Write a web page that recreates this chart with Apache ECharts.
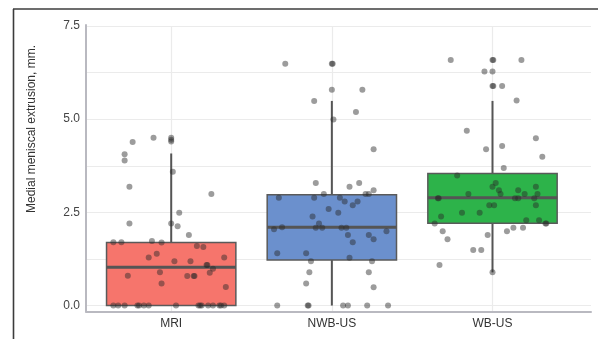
<!DOCTYPE html>
<html>
<head>
<meta charset="utf-8">
<script src="https://cdn.jsdelivr.net/npm/echarts@6/dist/echarts.min.js"></script>
<style>html,body{margin:0;padding:0;background:#fff;}#c{width:598px;height:339px;}</style>
</head>
<body>
<div id="c"></div>
<script>
// ---- data ----
var categories = ['MRI', 'NWB-US', 'WB-US'];
var boxColors = ['#F6756C', '#6B90CD', '#2DB34A'];
// [min(whisker), Q1, median, Q3, max(whisker)]
var boxMRI = [0, 0, 1.03, 1.69, 4.08];
var boxNWB = [0, 1.22, 2.10, 2.97, 5.49];
var boxWB  = [0.89, 2.21, 2.89, 3.54, 5.49];
var yTickLabels = ['0.0', '2.5', '5.0', '7.5'];

// jittered points: horizontal offset (category units) and value
var mriOffsets = [-0.11,0.00,0.00,0.00,-0.24,-0.29,-0.29,0.01,-0.26,0.25,0.05,-0.26,0.00,0.04,0.11,-0.36,-0.31,-0.12,-0.06,0.16,0.20,-0.09,-0.14,0.33,0.02,0.12,0.22,0.225,0.26,0.24,-0.07,-0.27,0.10,0.14,0.145,-0.06,0.34,
  -0.36,-0.33,-0.29,-0.21,-0.20,-0.17,-0.14,0.03,0.17,0.18,0.19,0.23,0.26,0.30,0.31,0.33];
var mriValues  = [4.50,4.50,4.45,4.40,4.39,4.06,3.89,3.59,3.19,2.99,2.49,2.20,2.20,2.13,1.89,1.70,1.70,1.73,1.69,1.60,1.57,1.39,1.29,1.29,1.19,1.19,1.09,1.09,0.99,0.88,0.89,0.80,0.79,0.79,0.79,0.59,0.50,
  0,0,0,0,0,0,0,0,0,0,0,0,0,0,0,0];
var nwbOffsets = [-0.29,0.00,0.005,0.00,0.19,-0.11,0.15,0.01,0.26,-0.10,0.17,0.11,0.26,0.21,0.23,-0.05,-0.33,-0.11,0.05,0.08,0.16,0.13,-0.02,0.04,-0.12,-0.08,-0.36,-0.31,-0.10,-0.06,0.06,0.09,0.10,0.23,0.26,0.34,0.13,-0.34,-0.16,0.11,-0.13,0.25,-0.14,0.23,-0.16,0.26,
  -0.34,-0.15,-0.145,0.07,0.10,0.22,0.35];
var nwbValues  = [6.49,6.49,6.49,5.79,5.79,5.49,5.19,4.99,4.19,3.29,3.29,3.19,3.09,2.99,2.99,2.99,2.89,2.89,2.89,2.79,2.79,2.69,2.59,2.49,2.39,2.20,2.05,2.10,2.09,2.09,2.09,2.09,1.89,1.89,1.78,1.99,1.70,1.40,1.40,1.28,1.19,1.19,0.89,0.89,0.59,0.49,
  0,0,0,0,0,0,0];
var wbOffsets = [-0.26,0.00,0.005,0.18,-0.05,0.00,0.00,0.005,0.06,0.15,-0.16,0.27,0.06,-0.04,0.31,0.07,-0.22,0.02,0.00,0.27,0.04,0.16,-0.15,0.05,0.20,0.28,-0.34,-0.335,0.14,0.16,0.26,-0.02,0.01,0.27,-0.19,-0.08,-0.32,0.21,0.29,-0.36,0.33,0.335,-0.31,0.09,0.13,0.19,-0.03,-0.28,-0.12,-0.07,-0.33,0.00];
var wbValues  = [6.59,6.59,6.59,6.59,6.28,6.28,5.89,5.89,5.89,5.50,4.69,4.49,4.28,4.19,3.99,3.69,3.49,3.29,3.19,3.19,3.09,3.09,2.99,2.99,2.99,2.99,2.88,2.88,2.88,2.88,2.88,2.69,2.69,2.69,2.49,2.49,2.39,2.29,2.29,2.20,2.20,2.20,1.99,1.99,2.09,2.09,1.89,1.78,1.49,1.49,1.09,0.89];

// ---- build ----
var boxes = [boxMRI, boxNWB, boxWB];
function pts(idx, offs, vals) {
  return vals.map(function (v, i) { return [idx + offs[i], v]; });
}
var allPoints = pts(0, mriOffsets, mriValues).concat(pts(1, nwbOffsets, nwbValues), pts(2, wbOffsets, wbValues));
var boxData = boxes.map(function (b, i) { return [i].concat(b); });

var chart = echarts.init(document.getElementById('c'), null, {renderer: 'canvas'});
var textColor = '#333';
var font = 'Liberation Sans, Arial, sans-serif';

var option = {
  animation: false,
  backgroundColor: '#fff',
  grid: [
    {left: 86, right: 7, top: 25, bottom: 27.5},      // frame (axis lines)
    {left: 86, right: 7, top: 26, bottom: 33.5},      // horizontal grid + y labels
    {left: 171.2, right: 105.5, top: 26, bottom: 27.5} // data
  ],
  xAxis: [
    {gridIndex: 0, type: 'value', min: 0, max: 1, axisLine: {show: true, lineStyle: {color: '#b9b9c0', width: 2}},
      axisTick: {show: false}, axisLabel: {show: false}, splitLine: {show: false}},
    {gridIndex: 1, type: 'value', min: 0, max: 1, show: false},
    {gridIndex: 2, type: 'value', min: 0, max: 2, interval: 1,
      axisLine: {show: false}, axisTick: {show: false},
      axisLabel: {margin: 6, color: textColor, fontSize: 12, fontFamily: font,
        formatter: function (v) { return categories[Math.round(v)] || ''; }},
      splitLine: {show: true, lineStyle: {color: '#ebebeb', width: 1.2}}}
  ],
  yAxis: [
    {gridIndex: 0, type: 'value', min: 0, max: 1, axisLine: {show: true, lineStyle: {color: '#b9b9c0', width: 2}},
      axisTick: {show: false}, axisLabel: {show: false}, splitLine: {show: false}},
    {gridIndex: 1, type: 'value', min: 0, max: 7.5, interval: 1.25,
      axisLine: {show: false}, axisTick: {show: false},
      axisLabel: {margin: 6, color: '#444', fontSize: 12, fontFamily: font,
        formatter: function (v) {
          var k = v / 2.5;
          if (Math.abs(k - Math.round(k)) < 1e-6) { return yTickLabels[Math.round(k)]; }
          return '';
        }},
      splitLine: {show: true, lineStyle: {color: '#ebebeb', width: 1.2}}},
    {gridIndex: 2, type: 'value', min: -0.16, max: 7.5, show: false}
  ],
  series: [
    {
      type: 'custom',
      xAxisIndex: 2, yAxisIndex: 2,
      data: boxData,
      clip: false,
      z: 2,
      renderItem: function (params, api) {
        var i = api.value(0);
        var mn = api.value(1), q1 = api.value(2), md = api.value(3), q3 = api.value(4), mx = api.value(5);
        var halfW = api.size([0.805, 0])[0] / 2;
        var pTop = api.coord([i, q3]);
        var pBot = api.coord([i, q1]);
        var pMed = api.coord([i, md]);
        var pMin = api.coord([i, mn]);
        var pMax = api.coord([i, mx]);
        var stroke = '#555';
        return {
          type: 'group',
          children: [
            {type: 'line', shape: {x1: pMax[0], y1: pMax[1], x2: pTop[0], y2: pTop[1]}, style: {stroke: stroke, lineWidth: 2}},
            {type: 'line', shape: {x1: pMin[0], y1: pMin[1], x2: pBot[0], y2: pBot[1]}, style: {stroke: stroke, lineWidth: 2}},
            {type: 'rect', shape: {x: pTop[0] - halfW, y: pTop[1], width: halfW * 2, height: pBot[1] - pTop[1]},
              style: {fill: boxColors[i], stroke: '#5a5a5a', lineWidth: 1.5}},
            {type: 'line', shape: {x1: pMed[0] - halfW, y1: pMed[1], x2: pMed[0] + halfW, y2: pMed[1]}, style: {stroke: stroke, lineWidth: 3}}
          ]
        };
      }
    },
    {
      type: 'scatter',
      xAxisIndex: 2, yAxisIndex: 2,
      data: allPoints,
      clip: false,
      z: 3,
      symbolSize: 6,
      itemStyle: {color: 'rgba(40,40,40,0.58)'}
    }
  ],
  graphic: [
    {type: 'line', shape: {x1: 13, y1: 9, x2: 598, y2: 9}, style: {stroke: '#3c3c3c', lineWidth: 1.6}, z: 10},
    {type: 'line', shape: {x1: 13.5, y1: 9, x2: 13.5, y2: 339}, style: {stroke: '#3c3c3c', lineWidth: 1.6}, z: 10},
    {type: 'text', x: 32, y: 129, rotation: Math.PI / 2,
      style: {text: 'Medial meniscal extrusion, mm.', fill: textColor, font: '12px ' + font, textAlign: 'center', textVerticalAlign: 'middle'}}
  ]
};
chart.setOption(option);
</script>
</body>
</html>
